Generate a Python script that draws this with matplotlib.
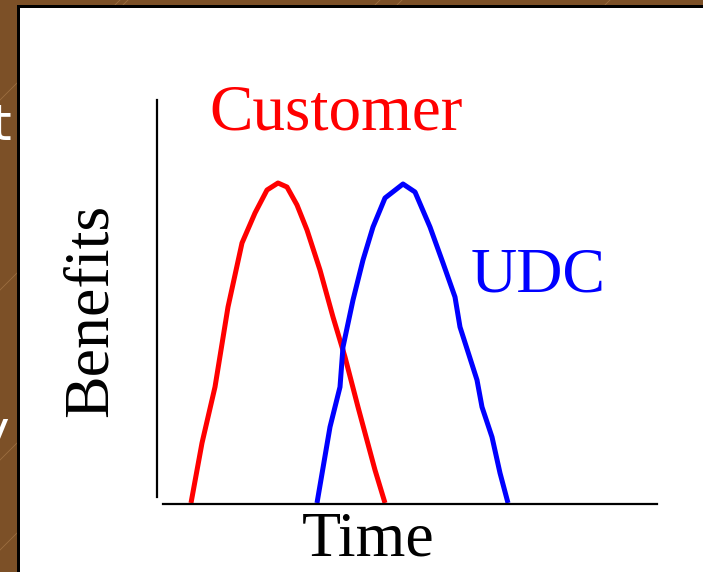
import matplotlib
matplotlib.use("Agg")
import matplotlib.pyplot as plt
from matplotlib.patches import Rectangle
from matplotlib.lines import Line2D

W, H = 703, 572
DPI = 100

# Data (time vs. benefits)
customer_time = [34, 45, 58, 71, 85, 98, 110, 121, 130, 140, 150, 163, 176, 188, 201, 208, 218, 228]
customer_benefit = [1, 61, 117, 197, 261, 291, 314, 321, 317, 299, 274, 234, 187, 147, 97, 71, 34, 1]
udc_time = [160, 173, 183, 186, 196, 206, 216, 228, 246, 258, 273, 286, 298, 303, 320, 325, 335, 343, 351]
udc_benefit = [1, 77, 117, 157, 204, 244, 277, 306, 320, 312, 277, 241, 207, 177, 124, 97, 67, 31, 1]

series_labels = ["Customer", "UDC"]
x_label = "Time"
y_label = "Benefits"

fig = plt.figure(figsize=(W / DPI, H / DPI), dpi=DPI)
fig.patch.set_facecolor("#7c5027")

def fx(px):
    return px / W

def fy(py):
    return 1 - py / H

# faint wood grain lines in the border
for x0, y0 in [(-10, 110), (-10, 300), (-10, 470), (-10, 560), (100, 20), (360, 20), (590, 20), (120, 8), (390, 12)]:
    fig.add_artist(Line2D([fx(x0), fx(x0 + 40)], [fy(y0), fy(y0 - 40)], color="#b08050",
                          lw=0.6, alpha=0.6, zorder=-3))

# black frame and white slide area
fig.add_artist(Rectangle((fx(17), 0), 1, fy(5), transform=fig.transFigure,
                         facecolor="black", edgecolor="none", zorder=-2))
fig.add_artist(Rectangle((fx(20), 0), 1, fy(8), transform=fig.transFigure,
                         facecolor="white", edgecolor="none", zorder=-1))

# partial white slide text at the left edge
fig.text(fx(11), fy(140), "t", color="white", fontsize=36, family="DejaVu Sans",
         ha="right", va="baseline", zorder=-1.5)
fig.text(fx(9), fy(446), "y", color="white", fontsize=36, family="DejaVu Sans",
         ha="right", va="baseline", zorder=-1.5)

# chart axes: x from 157px to 657px, y from 504px (bottom) to 100px (top)
ax = fig.add_axes([fx(157), fy(504), fx(657) - fx(157), fy(100) - fy(504)])
ax.set_zorder(1)
ax.set_facecolor("none")
ax.set_xlim(0, 500)
ax.set_ylim(0, 404)
for s in ["top", "right"]:
    ax.spines[s].set_visible(False)
ax.spines["left"].set_bounds(7, 404)
ax.spines["bottom"].set_bounds(6, 500)
ax.spines["left"].set_linewidth(1.6)
ax.spines["bottom"].set_linewidth(1.6)
ax.set_xticks([])
ax.set_yticks([])

ax.plot(customer_time, customer_benefit, color="#ff0000", lw=3.6, solid_capstyle="butt",
        solid_joinstyle="round", clip_on=False)
ax.plot(udc_time, udc_benefit, color="#0000ff", lw=3.6, solid_capstyle="butt",
        solid_joinstyle="round", clip_on=False)

serif = "Liberation Serif"
fig.text(fx(209), fy(130), series_labels[0], color="#ff0000", fontsize=47, family=serif,
         ha="left", va="baseline", zorder=2)
fig.text(fx(471), fy(291), series_labels[1], color="#0000ff", fontsize=46, family=serif,
         ha="left", va="baseline", zorder=2)
fig.text(fx(302), fy(555), x_label, color="black", fontsize=46, family=serif,
         ha="left", va="baseline", zorder=2)
fig.text(fx(107), fy(310), y_label, color="black", fontsize=46, family=serif,
         ha="center", va="baseline", rotation=90, rotation_mode="anchor", zorder=2)

fig.savefig("out.png", dpi=DPI)
